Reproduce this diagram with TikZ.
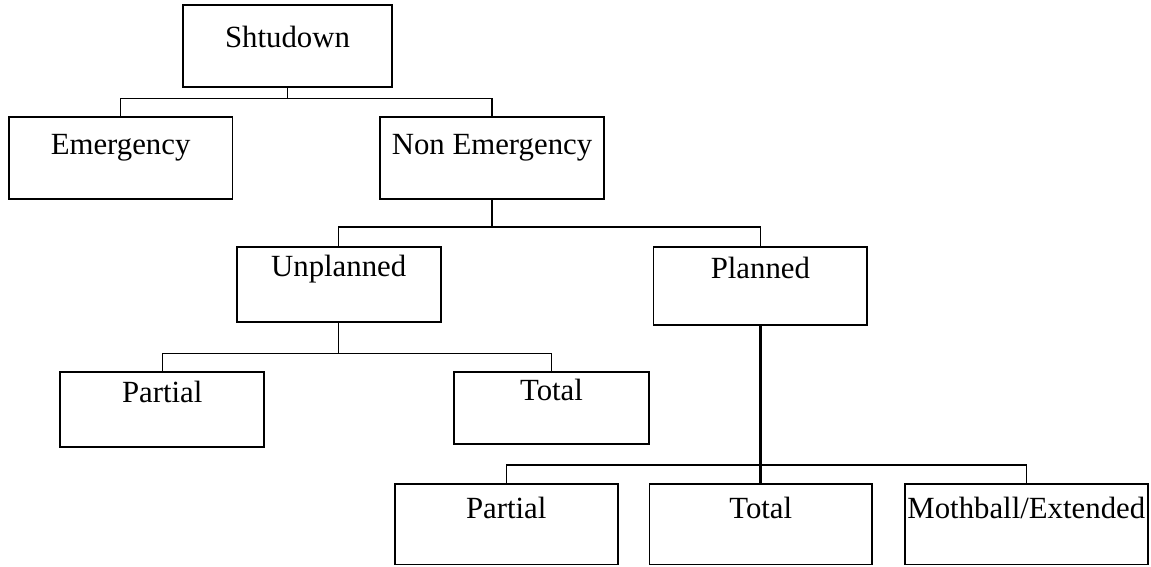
\documentclass[tikz,border=0pt]{standalone}
\usepackage{fontspec}
\setmainfont{Liberation Serif}

\begin{document}
\begin{tikzpicture}[x=1pt,y=-1pt,
  box/.style={draw=black,rectangle,inner sep=0pt,line width=1.9pt},
  caption/.style={anchor=base,inner sep=0pt,font=\fontsize{30.8}{36}\selectfont},
  link/.style={draw=black,line width=1.4pt}]
\useasboundingbox (0,0) rectangle (1151,566);
\node[box,minimum width=208.4pt,minimum height=82.3pt] (sd) at (287.5,46.2) {};
\node[box,minimum width=223.8pt,minimum height=82pt] (em) at (120.6,158.3) {};
\node[box,minimum width=224pt,minimum height=82pt] (ne) at (492,158.3) {};
\node[box,minimum width=203.7pt,minimum height=75pt] (un) at (338.7,284.2) {};
\node[box,minimum width=213.8pt,minimum height=78.3pt] (pl) at (760.4,285.9) {};
\node[box,minimum width=203.6pt,minimum height=75pt] (upa) at (162.2,409.8) {};
\node[box,minimum width=195pt,minimum height=71.7pt] (uto) at (551.5,408.2) {};
\node[box,minimum width=222.7pt,minimum height=80.2pt] (ppa) at (506.2,524.4) {};
\node[box,minimum width=222.5pt,minimum height=80.2pt] (pto) at (760.75,524.4) {};
\node[box,minimum width=243.4pt,minimum height=80.2pt] (pmb) at (1026.3,524.4) {};
\node[caption] (sdt) at (287.5,47.7) {Shtudown};
\node[caption] (emt) at (120.6,154) {Emergency};
\node[caption] (net) at (492,154) {Non Emergency};
\node[caption] (unt) at (338.7,276) {Unplanned};
\node[caption] (plt) at (760.4,278.3) {Planned};
\node[caption] (upat) at (162.2,402.3) {Partial};
\node[caption] (utot) at (551.5,400) {Total};
\node[caption] (ppat) at (506.2,518.3) {Partial};
\node[caption] (ptot) at (760.75,518.3) {Total};
\node[caption] (pmbt) at (1026.3,518.3) {Mothball/Extended};
\draw[link] (sd.south) -- ++(0,10.4) coordinate (sdj);
\draw[link] (sdj) -| (em.north);
\draw[link] (sdj) -| (ne.north);
\draw[link] (ne.south) -- ++(0,26.7) coordinate (nej);
\draw[link] (nej) -| (un.north);
\draw[link] (nej) -| (pl.north);
\draw[link] (un.south) -- ++(0,30.6) coordinate (unj);
\draw[link] (unj) -| (upa.north);
\draw[link] (unj) -| (uto.north);
\draw[link] (pl.south) -- ++(0,139) coordinate (plj);
\draw[link] (plj) -| (ppa.north);
\draw[link] (plj) -| (pmb.north);
\draw[link,line width=2.6pt] (pl.south) -- (plj) -| (pto.north);
\end{tikzpicture}
\end{document}
